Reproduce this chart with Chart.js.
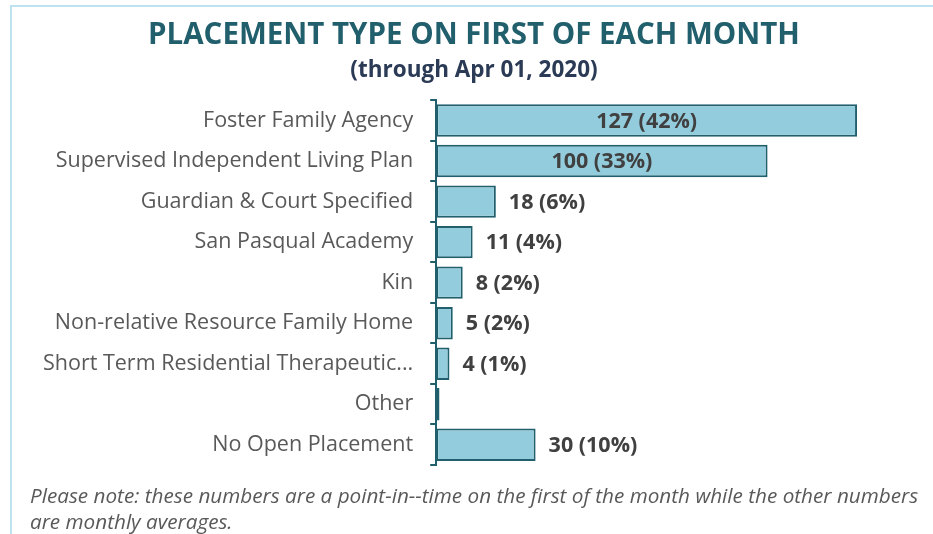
<!DOCTYPE html>
<html>
<head>
<meta charset="utf-8">
<script src="https://cdn.jsdelivr.net/npm/chart.js@4.4.1/dist/chart.umd.min.js"></script>
<style>
  html, body { margin: 0; padding: 0; background: #ffffff; }
  #wrap { position: relative; width: 933px; height: 534px; overflow: hidden; }
  #frame { position: absolute; left: 10px; top: 5px; width: 940px; height: 560px;
           border-left: 2px solid #bde3f0; border-top: 2px solid #bde3f0; box-sizing: border-box; }
  #chart { position: absolute; left: 0; top: 0; }
  #note { position: absolute; left: 30px; top: 482px; width: 895px;
          font-family: "Open Sans", sans-serif; font-style: italic; font-size: 20.7px;
          line-height: 26px; color: #595959; }
</style>
</head>
<body>
<div id="wrap">
  <div id="frame"></div>
  <canvas id="chart" width="933" height="534"></canvas>
  <div id="note">Please note: these numbers are a point-in--time on the first of the month while the other numbers are monthly averages.</div>
</div>
<script>
// Placements counted on the first of the month
const categories = [
  "Foster Family Agency",
  "Supervised Independent Living Plan",
  "Guardian & Court Specified",
  "San Pasqual Academy",
  "Kin",
  "Non-relative Resource Family Home",
  "Short Term Residential Therapeutic...",
  "Other",
  "No Open Placement"
];
const counts   = [127, 100, 18, 11, 8, 5, 4, 1, 30];
const percents = [42, 33, 6, 4, 2, 2, 1, null, 10];

const titleText = "PLACEMENT TYPE ON FIRST OF EACH MONTH";
const subtitleText = "(through Apr 01, 2020)";

// Value labels: centred inside long bars, just past the end of short ones
const barLabels = {
  id: "barLabels",
  afterDatasetsDraw(chart) {
    const ctx = chart.ctx;
    const meta = chart.getDatasetMeta(0);
    ctx.save();
    ctx.font = "bold 21.5px 'Open Sans', sans-serif";
    ctx.fillStyle = "#404040";
    ctx.textBaseline = "middle";
    meta.data.forEach((bar, i) => {
      if (percents[i] === null) return;
      const text = counts[i] + " (" + percents[i] + "%)";
      if (counts[i] >= 60) {
        ctx.textAlign = "center";
        ctx.fillText(text, (bar.base + bar.x) / 2, bar.y + 1);
      } else {
        ctx.textAlign = "left";
        ctx.fillText(text, bar.x + 13, bar.y + 1);
      }
    });
    ctx.restore();
  }
};

new Chart(document.getElementById("chart"), {
  type: "bar",
  data: {
    labels: categories,
    datasets: [{
      data: counts,
      backgroundColor: "#93cddd",
      borderColor: "#215f6d",
      borderWidth: 2,
      borderSkipped: false,
      barPercentage: 0.8,
      categoryPercentage: 1.0
    }]
  },
  options: {
    indexAxis: "y",
    responsive: false,
    animation: false,
    layout: { padding: { left: 26, right: 11, top: 0, bottom: 69 } },
    plugins: {
      legend: { display: false },
      tooltip: { enabled: false },
      title: {
        display: true,
        text: titleText,
        color: "#215f6d",
        font: { family: "'Open Sans', sans-serif", size: 29.5, weight: "bold" },
        padding: { top: 18, bottom: 3.6 }
      },
      subtitle: {
        display: true,
        text: subtitleText,
        color: "#2b3a55",
        font: { family: "'Open Sans', sans-serif", size: 22.5, weight: "bold" },
        padding: { top: 0, bottom: 16.3 }
      }
    },
    scales: {
      x: {
        display: false,
        min: 0,
        max: 146.6
      },
      y: {
        offset: true,
        border: { display: true, color: "#215f6d", width: 2 },
        grid: {
          offset: true,
          drawOnChartArea: false,
          drawTicks: true,
          tickLength: 6,
          color: "#215f6d",
          lineWidth: 2
        },
        ticks: {
          color: "#595959",
          padding: 17,
          font: { family: "'Open Sans', sans-serif", size: 21.5 }
        }
      }
    }
  },
  plugins: [barLabels]
});
</script>
</body>
</html>
